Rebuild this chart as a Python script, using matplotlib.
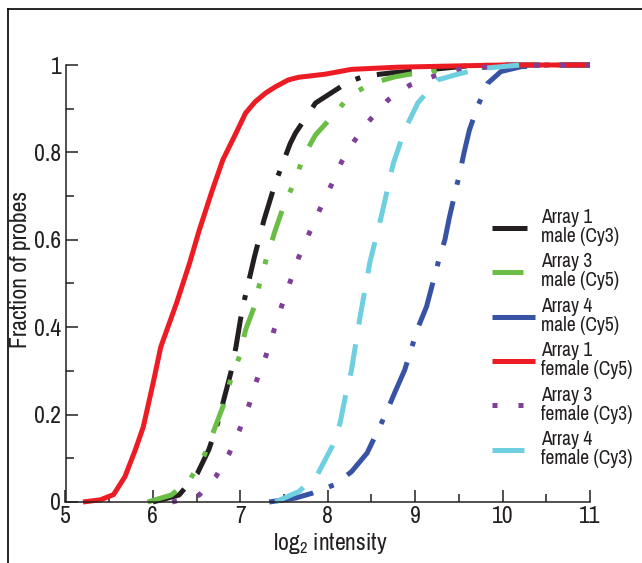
import numpy as np
import matplotlib
matplotlib.use("Agg")
import matplotlib.pyplot as plt
from matplotlib import font_manager
from matplotlib.lines import Line2D

# cumulative fraction of probes vs log2 intensity
black_x = [6.0, 6.3, 6.51, 6.64, 6.74, 6.89, 6.95, 7.02, 7.16, 7.27, 7.40, 7.57, 7.63, 7.86, 8.24, 8.43, 8.73, 9.2, 9.6, 10.0, 11.0]
black_y = [0.0, 0.016, 0.066, 0.12, 0.18, 0.295, 0.355, 0.44, 0.56, 0.645, 0.73, 0.82, 0.844, 0.913, 0.962, 0.975, 0.982, 0.99, 0.998, 1.0, 1.0]

green_x = [5.94, 6.21, 6.42, 6.59, 6.70, 6.80, 6.89, 6.99, 7.06, 7.16, 7.23, 7.31, 7.40, 7.50, 7.63, 7.72, 7.86, 8.05, 8.26, 8.50, 8.77, 9.11, 9.68, 10.2, 11.0]
green_y = [0.0, 0.016, 0.05, 0.108, 0.165, 0.218, 0.28, 0.333, 0.394, 0.447, 0.508, 0.565, 0.622, 0.68, 0.737, 0.79, 0.84, 0.882, 0.931, 0.958, 0.973, 0.985, 0.993, 1.0, 1.0]

blue_x = [7.33, 7.63, 7.82, 8.07, 8.27, 8.45, 8.66, 8.77, 8.88, 9.03, 9.13, 9.20, 9.28, 9.34, 9.39, 9.45, 9.51, 9.56, 9.62, 9.72, 9.83, 9.98, 10.21, 10.5, 11.0]
blue_y = [0.0, 0.009, 0.02, 0.039, 0.069, 0.112, 0.2, 0.252, 0.302, 0.398, 0.447, 0.5, 0.561, 0.6, 0.65, 0.702, 0.753, 0.80, 0.851, 0.908, 0.958, 0.985, 0.996, 1.0, 1.0]

red_x = [5.2, 5.4, 5.55, 5.68, 5.8, 5.89, 6.0, 6.09, 6.27, 6.42, 6.53, 6.68, 6.8, 6.95, 7.06, 7.17, 7.29, 7.4, 7.55, 7.67, 7.97, 8.27, 8.8, 9.5, 10.0, 11.0]
red_y = [0.0, 0.005, 0.017, 0.058, 0.12, 0.172, 0.27, 0.355, 0.455, 0.547, 0.622, 0.714, 0.783, 0.844, 0.89, 0.916, 0.936, 0.95, 0.966, 0.972, 0.979, 0.99, 0.995, 0.998, 1.0, 1.0]

purple_x = [6.22, 6.53, 6.72, 6.87, 6.99, 7.10, 7.19, 7.29, 7.38, 7.47, 7.57, 7.67, 7.79, 7.91, 8.04, 8.16, 8.31, 8.49, 8.69, 8.94, 9.22, 9.49, 9.79, 10.3, 11.0]
purple_y = [0.0, 0.016, 0.058, 0.11, 0.165, 0.222, 0.28, 0.333, 0.39, 0.447, 0.504, 0.561, 0.616, 0.67, 0.725, 0.779, 0.828, 0.876, 0.92, 0.954, 0.975, 0.989, 0.995, 0.999, 1.0]

cyan_x = [7.40, 7.67, 7.88, 8.05, 8.14, 8.20, 8.27, 8.37, 8.48, 8.62, 8.75, 8.88, 9.03, 9.26, 9.45, 9.75, 10.09, 10.2]
cyan_y = [0.0, 0.024, 0.062, 0.127, 0.18, 0.24, 0.3, 0.424, 0.547, 0.66, 0.775, 0.851, 0.913, 0.966, 0.977, 0.992, 0.998, 1.0]

labels = ["Array 1\nmale (Cy3)", "Array 3\nmale (Cy5)", "Array 4\nmale (Cy5)",
          "Array 1\nfemale (Cy5)", "Array 3\nfemale (Cy3)", "Array 4\nfemale (Cy3)"]

# narrow grotesque font if available, else Liberation Sans
names = {f.name for f in font_manager.fontManager.ttflist}
fam = "Liberation Sans"
for cand in ["Liberation Sans Narrow", "Archivo Narrow"]:
    if cand in names:
        fam = cand
        break
plt.rcParams["font.family"] = [fam, "DejaVu Sans"]
plt.rcParams["mathtext.fontset"] = "custom"
plt.rcParams["mathtext.rm"] = fam
plt.rcParams["mathtext.it"] = fam
plt.rcParams["lines.scale_dashes"] = False

ink = "#231f20"
lw = 3.6

fig = plt.figure(figsize=(6.42, 5.63), dpi=100)
ax = fig.add_axes([65.5 / 642, 1 - 502 / 563, (590 - 65.5) / 642, (502 - 65) / 563])

series = [
    (black_x, black_y, "#231f20", [25.2, 14.4, 25.2, 12.2, 3.6, 12.2]),
    (green_x, green_y, "#6abd45", [22.3, 14.4, 3.6, 14.4, 3.6, 14.4]),
    (blue_x, blue_y, "#3953a4", [32.4, 12.2, 3.6, 12.2]),
    (red_x, red_y, "#ed1c24", None),
    (purple_x, purple_y, "#7f3f98", [3.6, 15.1]),
    (cyan_x, cyan_y, "#6dcfdf", [23.0, 14.4]),
]
for (xs, ys, col, dash), lab in zip(series, labels):
    line, = ax.plot(xs, ys, color=col, lw=lw, label=lab, clip_on=False,
                    solid_capstyle="butt", dash_capstyle="butt")
    if dash is not None:
        line.set_dashes(dash)

ax.set_xlim(5, 11)
ax.set_ylim(0, 1)
ax.set_xticks(np.arange(5, 11.1, 1))
ax.set_xticks(np.arange(5.5, 11, 1), minor=True)
ax.set_yticks([0, 0.2, 0.4, 0.6, 0.8, 1])
ax.set_yticklabels(["0", "0.2", "0.4", "0.6", "0.8", "1"])
ax.set_yticks(np.arange(0.1, 1, 0.2), minor=True)
for s in ["top", "right"]:
    ax.spines[s].set_visible(False)
for s in ["left", "bottom"]:
    ax.spines[s].set_linewidth(1.1)
    ax.spines[s].set_color(ink)
ax.tick_params(which="both", direction="in", width=1.1, color=ink, labelcolor=ink, labelsize=17)
ax.tick_params(which="major", length=8.6, pad=3)
ax.tick_params(which="minor", length=5.8)

ax.set_xlabel(r"log$_2$ intensity", fontsize=17, color=ink)
ax.set_ylabel("Fraction of probes", fontsize=17, color=ink)
ax.yaxis.set_label_coords(-0.066, 0.533)
ax.xaxis.set_label_coords(0.505, -0.067)

leg = ax.legend(loc="upper left", bbox_to_anchor=(492 / 642, 1 - 208 / 563),
                bbox_transform=fig.transFigure, frameon=False, fontsize=14,
                handlelength=2.2, handletextpad=0.3, labelspacing=0.33,
                borderpad=0, borderaxespad=0)
for t in leg.get_texts():
    t.set_color(ink)
    t.set_linespacing(1.0)

# frame lines around the figure (left and top)
fig.add_artist(Line2D([8 / 642, 8 / 642], [0, 1 - 9 / 563], transform=fig.transFigure, color="black", lw=1.2))
fig.add_artist(Line2D([8 / 642, 1], [1 - 9 / 563, 1 - 9 / 563], transform=fig.transFigure, color="black", lw=1.2))

fig.savefig("out.png", dpi=100)
